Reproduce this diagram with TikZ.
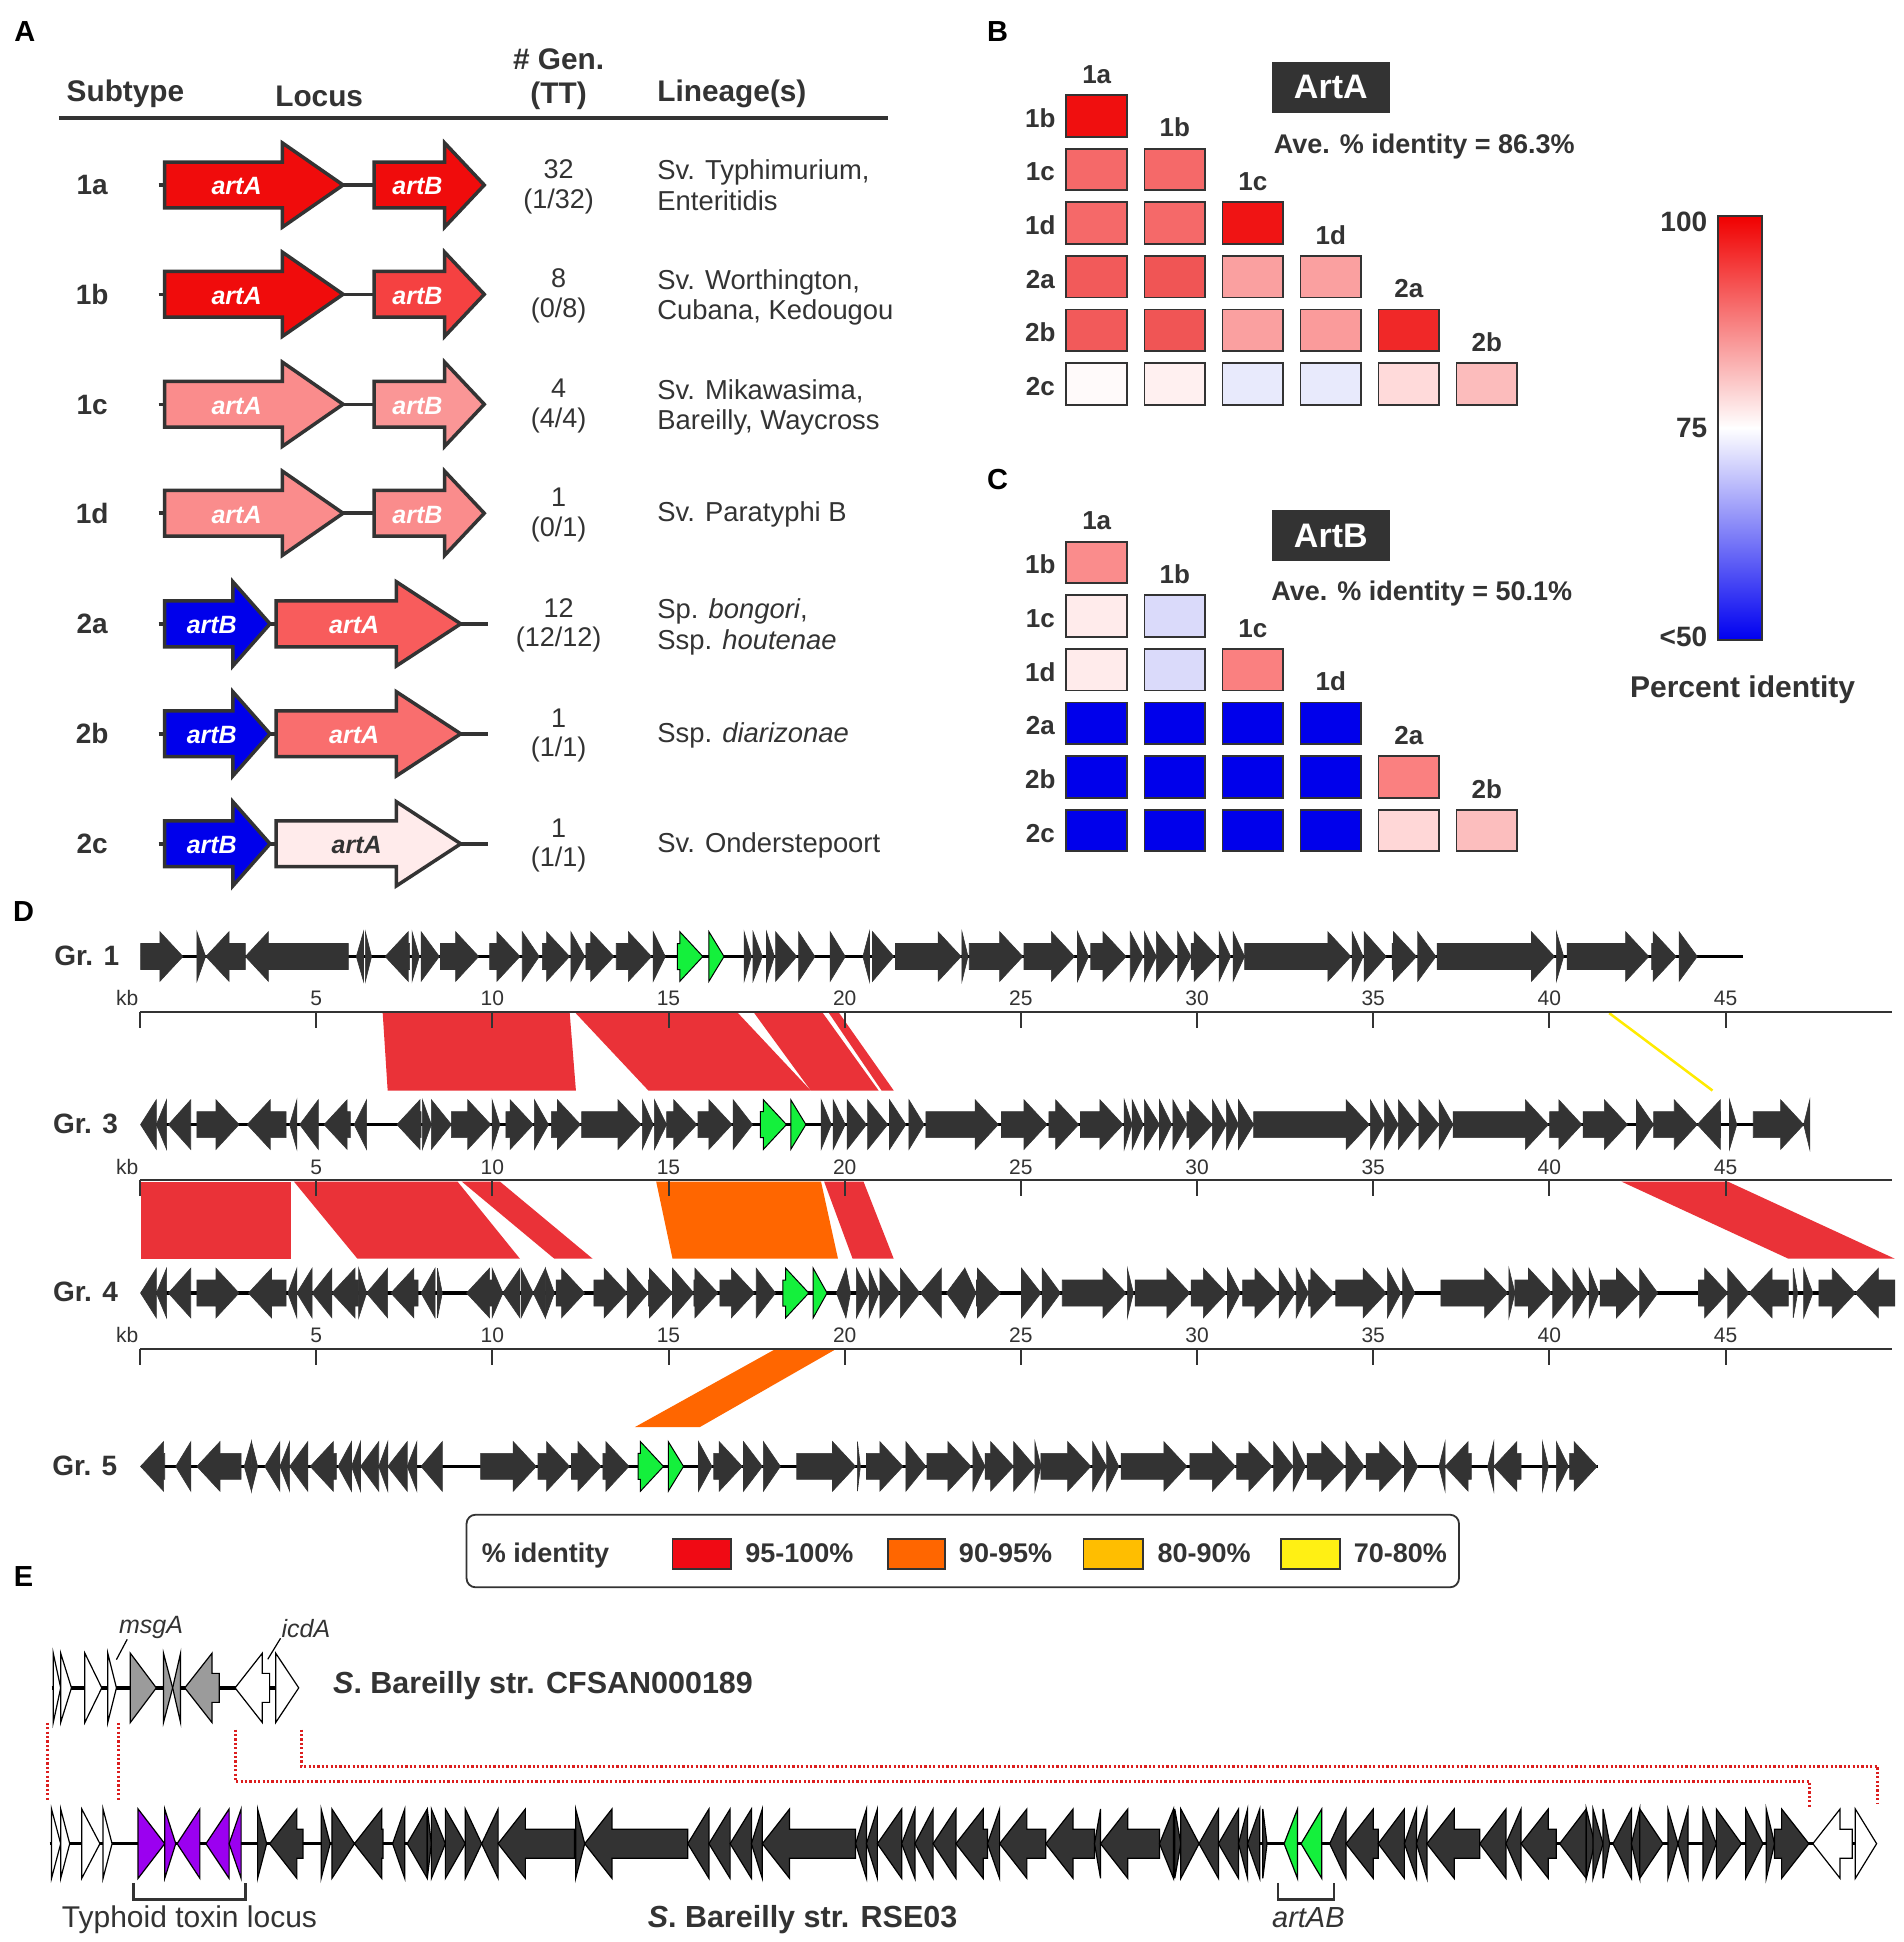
\documentclass[tikz,border=0pt]{standalone}
\usepackage{fontspec}
\setmainfont{Liberation Sans}
\definecolor{tdark}{RGB}{51,51,51}
\definecolor{gdark}{RGB}{51,51,51}
\definecolor{ggreen}{RGB}{20,240,60}
\definecolor{gpurple}{RGB}{155,0,240}
\definecolor{ggray}{RGB}{155,155,155}
\definecolor{alred}{RGB}{234,50,56}
\definecolor{alorange}{RGB}{255,102,0}
\definecolor{alyellow}{RGB}{255,235,0}
\definecolor{lgred}{RGB}{240,10,20}
\definecolor{lgamber}{RGB}{255,190,0}
\definecolor{lgyellow}{RGB}{255,240,20}
\definecolor{dotred}{RGB}{220,30,30}
\definecolor{cbred}{RGB}{240,0,0}
\definecolor{cbblue}{RGB}{0,0,240}
\definecolor{aR1}{RGB}{240,12,12}
\definecolor{aR2}{RGB}{245,65,65}
\definecolor{aP1}{RGB}{250,140,140}
\definecolor{aP2}{RGB}{250,150,150}
\definecolor{aR3}{RGB}{248,92,92}
\definecolor{aR4}{RGB}{249,110,110}
\definecolor{aW}{RGB}{255,235,235}
\definecolor{aB}{RGB}{0,0,235}

\tikzset{
  tnode/.style={inner sep=0pt, outer sep=0pt, text=tdark, anchor=base},
  hdr/.style={tnode, font=\fontsize{29.8}{33}\selectfont\bfseries},
  plet/.style={inner sep=0pt, outer sep=0pt, anchor=base, text=black, font=\fontsize{29}{33}\selectfont\bfseries},
  rlab/.style={tnode, font=\fontsize{28}{32}\selectfont\bfseries},
  cnt/.style={tnode, font=\fontsize{27}{31}\selectfont},
  lin/.style={tnode, anchor=base west, font=\fontsize{27.4}{31}\selectfont},
  alab/.style={inner sep=0pt, anchor=base, text=white, font=\fontsize{25}{29}\selectfont\bfseries\itshape},
  abone/.style={draw=tdark, line width=3.5pt},
  aarrow/.style={draw=tdark, line width=3.5pt, line join=miter, miter limit=10},
  cell/.style={draw=tdark, line width=1.8pt},
  blab/.style={tnode, font=\fontsize{26}{30}\selectfont\bfseries},
  boxlab/.style={inner sep=0pt, anchor=base, text=white, font=\fontsize{34}{38}\selectfont\bfseries},
  ave/.style={tnode, anchor=base west, font=\fontsize{27}{31}\selectfont\bfseries},
  cblab/.style={tnode, anchor=base east, font=\fontsize{28}{32}\selectfont\bfseries},
  grl/.style={tnode, font=\fontsize{28}{32}\selectfont\bfseries},
  sclab/.style={tnode, font=\fontsize{21}{24}\selectfont},
  scl/.style={draw=tdark, line width=2pt},
  bbone/.style={draw=black, line width=3.5pt},
  gbase/.style={fill=gdark, draw=gdark, line width=0.6pt, line join=miter},
  grn/.style={fill=ggreen, draw=black, line width=1pt},
  ewhite/.style={fill=white, draw=black, line width=1.2pt},
  egray/.style={fill=ggray, draw=black, line width=1.2pt},
  epurp/.style={fill=gpurple, draw=black, line width=1.2pt},
  edark/.style={fill=gdark, draw=black, line width=1.2pt},
  egreen/.style={fill=ggreen, draw=black, line width=1.2pt},
  legt/.style={tnode, anchor=base west, font=\fontsize{27}{31}\selectfont\bfseries},
  sw/.style={draw=tdark, line width=1.8pt},
  dotl/.style={draw=dotred, line width=3pt, dash pattern=on 2.2pt off 2.2pt},
  brk/.style={draw=tdark, line width=2.8pt},
  etx/.style={tnode, font=\fontsize{30.5}{34}\selectfont\bfseries},
  eit/.style={tnode, font=\fontsize{25}{29}\selectfont\itshape},
}

% gene arrow: [style]{start}{end}{dir}
\newcommand{\gene}[4][]{%
  \pgfmathsetmacro\hd{min((#3)-(#2),\HL)}%
  \ifnum#4>0\relax
    \path[gbase,#1] (#2,\TY-\BH) -- ({#3-\hd},\TY-\BH) -- ({#3-\hd},\TY-\HH) -- (#3,\TY) -- ({#3-\hd},\TY+\HH) -- ({#3-\hd},\TY+\BH) -- (#2,\TY+\BH) -- cycle;
  \else
    \path[gbase,#1] (#3,\TY-\BH) -- ({#2+\hd},\TY-\BH) -- ({#2+\hd},\TY-\HH) -- (#2,\TY) -- ({#2+\hd},\TY+\HH) -- ({#2+\hd},\TY+\BH) -- (#3,\TY+\BH) -- cycle;
  \fi}

% panel A arrow
\newcommand{\aarr}[5]{\path[aarrow,fill=#5] (#1,#4-18.5) -- (#2,#4-18.5) -- (#2,#4-34) -- (#3,#4) -- (#2,#4+34) -- (#2,#4+18.5) -- (#1,#4+18.5) -- cycle;}
\newcommand{\typeone}[4]{%
  \draw[abone] (128,#1) -- (391,#1);
  \aarr{133}{228}{277}{#1}{#2}
  \aarr{302}{359}{391}{#1}{#3}
  \node[alab] (A#4) at (191,#1+8) {artA};
  \node[alab] (B#4) at (337,#1+8) {artB};}
\newcommand{\typetwo}[5]{%
  \draw[abone] (128,#1) -- (394,#1);
  \aarr{133}{188}{218}{#1}{aB}
  \aarr{223}{320}{372}{#1}{#2}
  \node[alab] (B#3) at (171,#1+8) {artB};
  \node[alab,text=#4] (A#3) at (#5,#1+8) {artA};}
\newcommand{\rowtxt}[6]{%
  \node[rlab] (lab#2) at (74.4,#1+8) {#2};
  \node[cnt] (n#2) at (451,#1-5.4) {#3};
  \node[cnt] (tt#2) at (451,#1+18.6) {#4};
  \node[lin] (lin#2) at (530.8,#1-4.1) {#5};
  \node[lin] (linb#2) at (530.8,#1+20.6) {#6};}
\newcommand{\rowtxtone}[5]{%
  \node[rlab] (lab#2) at (74.4,#1+8) {#2};
  \node[cnt] (n#2) at (451,#1-5.4) {#3};
  \node[cnt] (tt#2) at (451,#1+18.6) {#4};
  \node[lin] (lin#2) at (530.8,#1+6.7) {#5};}

\newcommand{\heatmap}[3]{%
  \foreach \ci/\cj/\cr/\cg/\cb in {#3} {%
    \edef\tmpdef{\noexpand\definecolor{cc}{RGB}{\cr,\cg,\cb}}\tmpdef
    \path[cell,fill=cc] ({861+63*\cj},{#1+43.3*\ci}) rectangle ++(49,33.6);
  }
  \foreach \cj/\ct in {0/1a,1/1b,2/1c,3/1d,4/2a,5/2b}
    \node[blab] (#2c\cj) at ({885.5+63*\cj},{#1+43.3*\cj-9.4}) {\ct};
  \foreach \ci/\ct in {0/1b,1/1c,2/1d,3/2a,4/2b,5/2c}
    \node[blab] (#2r\ci) at (840,{#1+43.3*\ci+26.1}) {\ct};
}

\newcommand{\kbscale}[2]{%
  \draw[scl] (113,#1) -- (1528,#1);
  \foreach \k in {0,...,9} {\draw[scl] ({113+142.25*\k},#1) -- ++(0,13);}
  \node[sclab] (#2kb) at (102.7,#1-5) {kb};
  \foreach \k in {1,...,9} {\pgfmathtruncatemacro\kl{5*\k}\node[sclab] (#2t\k) at ({113+142.25*\k},#1-5) {\kl};}
}

\begin{document}
\begin{tikzpicture}[x=1.2388pt, y=-1.2388pt]
\useasboundingbox (0,0) rectangle (1537,1568);
\fill[white] (0,0) rectangle (1537,1568);

% ---------------- panel letters
\node[plet] (lA) at (20,33.6) {A};
\node[plet] (lB) at (805.5,33.6) {B};
\node[plet] (lC) at (805.5,395.5) {C};
\node[plet] (lD) at (19,744) {D};
\node[plet] (lE) at (19,1280.8) {E};

% ---------------- panel A
\node[hdr] (hSub) at (101.3,82) {Subtype};
\node[hdr] (hLoc) at (257.7,85.6) {Locus};
\node[hdr] (hGen) at (451,56) {\# Gen.};
\node[hdr] (hTT) at (451,83.4) {(TT)};
\node[hdr, anchor=base west] (hLin) at (530.8,82) {Lineage(s)};
\draw[draw=tdark, line width=4pt] (47.5,95.5) -- (717,95.5);

\typeone{149.4}{aR1}{aR1}{r1a}
\typeone{237.6}{aR1}{aR2}{r1b}
\typeone{326.4}{aP1}{aP2}{r1c}
\typeone{414.4}{aP1}{aP1}{r1d}
\typetwo{503.7}{aR3}{r2a}{white}{286}
\typetwo{592.5}{aR4}{r2b}{white}{286}
\typetwo{681.3}{aW}{r2c}{tdark}{288}

\rowtxt{149.4}{1a}{32}{(1/32)}{Sv. Typhimurium,}{Enteritidis}
\rowtxt{237.6}{1b}{8}{(0/8)}{Sv. Worthington,}{Cubana, Kedougou}
\rowtxt{326.4}{1c}{4}{(4/4)}{Sv. Mikawasima,}{Bareilly, Waycross}
\rowtxtone{414.4}{1d}{1}{(0/1)}{Sv. Paratyphi B}
\rowtxt{503.7}{2a}{12}{(12/12)}{Sp. \textit{bongori},}{Ssp. \textit{houtenae}}
\rowtxtone{592.5}{2b}{1}{(1/1)}{Ssp. \textit{diarizonae}}
\rowtxtone{681.3}{2c}{1}{(1/1)}{Sv. Onderstepoort}

% ---------------- panel B
\heatmap{76.7}{hb}{0/0/240/15/15,
 1/0/245/105/105, 1/1/245/105/105,
 2/0/245/105/105, 2/1/245/105/105, 2/2/240/20/20,
 3/0/242/90/90, 3/1/240/85/85, 3/2/250/160/160, 3/3/250/160/160,
 4/0/242/90/90, 4/1/240/85/85, 4/2/250/160/160, 4/3/250/155/155, 4/4/240/40/40,
 5/0/255/250/250, 5/1/255/240/240, 5/2/232/234/252, 5/3/232/234/252, 5/4/255/218/218, 5/5/252/188/188}
\fill[tdark] (1027,50) rectangle (1122,91);
\node[boxlab] (artAbox) at (1074.5,79.9) {ArtA};
\node[ave] (aveA) at (1028.5,124.3) {Ave. \% identity = 86.3\%};

% ---------------- panel C
\heatmap{437.3}{hc}{0/0/250/140/140,
 1/0/255/235/235, 1/1/218/218/250,
 2/0/255/235/235, 2/1/218/218/250, 2/2/250/128/128,
 3/0/0/0/235, 3/1/0/0/235, 3/2/0/0/235, 3/3/0/0/235,
 4/0/0/0/235, 4/1/0/0/235, 4/2/0/0/235, 4/3/0/0/235, 4/4/250/128/128,
 5/0/0/0/235, 5/1/0/0/235, 5/2/0/0/235, 5/3/0/0/235, 5/4/255/215/215, 5/5/252/190/190}
\fill[tdark] (1027,412) rectangle (1122,453);
\node[boxlab] (artBbox) at (1074.5,441.8) {ArtB};
\node[ave] (aveB) at (1026.5,484.9) {Ave. \% identity = 50.1\%};

% ---------------- colour bar
\shade[top color=cbred, bottom color=white] (1387,174.4) rectangle (1423,345.5);
\shade[top color=white, bottom color=cbblue] (1387,345.5) rectangle (1423,516.6);
\draw[draw=tdark, line width=2pt] (1387,174.4) rectangle (1423,516.6);
\node[cblab] (cb100) at (1378.4,187) {100};
\node[cblab] (cb75) at (1378.4,353) {75};
\node[cblab] (cb50) at (1378.4,522) {<50};
\node[tnode, font=\fontsize{30}{34}\selectfont\bfseries] (cbt) at (1407,563) {Percent identity};

% ---------------- panel D alignments
\fill[alred] (309,818) -- (460,818) -- (465,880.5) -- (313,880.5) -- cycle;
\fill[alred] (464.8,818) -- (595.9,818) -- (654.6,880.5) -- (523.5,880.5) -- cycle;
\fill[alred] (609,818) -- (664.4,818) -- (709.4,880.5) -- (654.6,880.5) -- cycle;
\fill[alred] (669.3,818) -- (677.6,818) -- (721.6,880.5) -- (711.8,880.5) -- cycle;
\coordinate (y1a) at (1299.3,818); \coordinate (y1b) at (1382.7,880.5);
\draw[alyellow, line width=2.5pt] (y1a) -- (y1b);

\fill[alred] (113.5,954) -- (234.8,954) -- (234.8,1016.3) -- (113.5,1016.3) -- cycle;
\fill[alred] (237.3,954) -- (369.4,954) -- (419.8,1016.3) -- (288.6,1016.3) -- cycle;
\fill[alred] (372.8,954) -- (403.6,954) -- (478.5,1016.3) -- (447.6,1016.3) -- cycle;
\fill[alorange] (529.8,954) -- (662.9,954) -- (676.6,1016.3) -- (543,1016.3) -- cycle;
\fill[alred] (665.4,954) -- (697.2,954) -- (721.6,1016.3) -- (688.4,1016.3) -- cycle;
\fill[alred] (1309.1,954) -- (1395,954) -- (1529.9,1016.3) -- (1444,1016.3) -- cycle;

\fill[alorange] (626.2,1089.2) -- (675.1,1089.2) -- (565.1,1152.2) -- (512.7,1152.2) -- cycle;

\kbscale{817}{s1}
\kbscale{953}{s2}
\kbscale{1089}{s3}

% ---------------- panel D tracks
\def\HH{20}\def\BH{10.5}\def\HL{18.6}
% Gr.1
\def\TY{772.3}
\draw[bbone] (113.5,\TY) -- (1407,\TY);
\foreach \ga/\gb/\gd in {113.5/147.7/1, 159/166/1, 166.3/198.1/-1, 198.1/281.3/-1, 287.7/293.5/-1, 295/300/1, 311/330.7/-1, 332.7/338.6/1, 340/354.7/1, 355.7/386.5/1, 395.3/419.8/1, 421.7/435.4/1, 437.9/459.9/1, 460.9/472.1/1, 473.1/495.6/1, 497.6/526/1, 527.4/537.2/1, 600.8/606.7/1, 608/615.5/1, 618.9/625.2/1, 626.2/643.3/1, 644.8/658/1, 670.3/682.5/1, 696.7/702/-1, 704.5/721.6/1, 723/776/1, 776.7/781.6/1, 782.6/825.8/1, 826.8/867.5/1, 870/878.8/1, 880.7/909.2/1, 912.6/923/1, 924/933.7/1, 933.7/949.4/1, 950.9/961.7/1, 961.7/982.8/1, 984.3/993.6/1, 995.6/1004.9/1, 1004.9/1090.7/1, 1091.7/1100.6/1, 1101.5/1119.2/1, 1124.1/1143.7/1, 1144.7/1159.4/1, 1160.4/1255.1/1, 1256.6/1262.5/1, 1265.4/1331.2/1, 1333.6/1353.3/1, 1355.7/1370.4/1}{\gene{\ga}{\gb}{\gd}}
\gene[grn]{547}{567.5}{1}
\gene[grn]{572.4}{584.6}{1}
\node[grl] (gr1) at (70,\TY+7) {Gr. 1};

% Gr.3
\def\TY{908}
\draw[bbone] (113.5,\TY) -- (1461,\TY);
\foreach \ga/\gb/\gd in {113.5/126.2/-1, 126.2/134.5/-1, 136/154/-1, 159/193/1, 199.6/231/-1, 233.9/239.7/-1, 242/257/-1, 261.7/282.8/-1, 286/296/-1, 320.5/340/-1, 341/348.3/1, 348.3/364.5/1, 364.5/396.3/1, 397.3/403.6/1, 408.5/430.5/1, 431.5/442.8/1, 445.2/468.7/1, 469.7/517.6/1, 518.6/527.4/1, 528.4/538.2/1, 538.2/562.6/1, 563.6/591/1, 592/607.6/1, 663/671.2/1, 672.7/682.5/1, 684/699.6/1, 700.6/716.7/1, 718.2/731.4/1, 733.9/746.1/1, 747.6/806/1, 808.6/845.4/1, 846.9/870.9/1, 872.4/906.7/1, 907.7/914.1/1, 914.1/923/1, 924/936.2/1, 936.2/946/1, 947/958.3/1, 958.3/978.9/1, 978.9/990.2/1, 990.2/1000/1, 1000/1012.2/1, 1012.2/1105.5/1, 1106.4/1117.7/1, 1117.7/1129/1, 1129/1144.7/1, 1145.7/1161.9/1, 1161.9/1173.2/1, 1173.2/1250.2/1, 1251.2/1277.2/1, 1278.2/1314/1, 1321.3/1335.1/1, 1335.1/1370.4/1, 1370.4/1389.1/-1, 1396.4/1402.3/1, 1415.6/1456.3/1, 1456.3/1461.2/-1}{\gene{\ga}{\gb}{\gd}}
\gene[grn]{614}{635}{1}
\gene[grn]{638.5}{650.7}{1}
\node[grl] (gr3) at (69,\TY+7) {Gr. 3};

% Gr.4
\def\TY{1044}
\draw[bbone] (113.5,\TY) -- (1528,\TY);
\foreach \ga/\gb/\gd in {113.5/126.2/-1, 126.2/134.5/-1, 136/154/-1, 159/193/1, 200.6/231/-1, 232.4/239.7/-1, 239.7/252/-1, 252/268/-1, 268/289.6/-1, 289.6/296/1, 296/313/-1, 315.6/337.6/-1, 340/351.3/-1, 353.2/357.1/1, 376.7/397.3/-1, 397.3/406/1, 406/419.8/-1, 420.7/430.5/1, 430.5/440.3/-1, 440.3/447.6/1, 449/472/1, 479.5/506.4/1, 506.4/523.5/1, 523.5/543/1, 543/560.2/1, 560.2/579.7/1, 581.2/609.1/1, 610.6/626.2/1, 675.4/683/-1, 683/686.7/1, 691.5/701.7/1, 701.7/709.8/1, 710.4/726.5/1, 727/742.7/1, 743.2/760.1/-1, 764.2/779/-1, 779/788/1, 788.4/807.8/1, 824.8/840.5/1, 841.5/856.2/1, 857.7/909.2/1, 910.2/915.1/1, 916.6/960.7/1, 961.7/990.2/1, 991.1/1001.4/1, 1003.4/1031.9/1, 1032.8/1045.6/1, 1046.6/1056.4/1, 1056.4/1077/1, 1078.5/1119.2/1, 1120.2/1131/1, 1132.5/1142.3/1, 1163.4/1217.3/1, 1218.3/1223.2/1, 1223.2/1252.7/1, 1253.7/1269.9/1, 1269.9/1282.1/1, 1283.1/1290.9/1, 1291.9/1323.8/1, 1323.8/1338.5/1, 1371.4/1395/1, 1395/1412.2/1, 1412.2/1444/-1, 1447.9/1451.4/1, 1456.3/1463.7/1, 1468.6/1498/1, 1498/1529.9/-1}{\gene{\ga}{\gb}{\gd}}
\gene[grn]{632}{653}{1}
\gene[grn]{656.6}{667.8}{1}
\node[grl] (gr4) at (69,\TY+7) {Gr. 4};

% Gr.5
\def\TY{1184}
\draw[bbone] (113.5,\TY) -- (1290,\TY);
\foreach \ga/\gb/\gd in {113.5/133/-1, 141.9/154.1/-1, 159/194.7/-1, 197.2/203/-1, 203/208/1, 213.8/226/-1, 226/233.9/-1, 233.9/248.5/-1, 250.5/271.5/-1, 273/283.8/-1, 283.8/291.1/-1, 291.1/305.8/-1, 305.8/313.1/-1, 313.1/328.8/-1, 328.8/336.6/-1, 340/357.1/-1, 388/433/1, 434.4/459.9/1, 461.4/485.3/1, 486.8/507.8/1, 564/574.9/1, 576.3/599.3/1, 600.3/615.5/1, 616.4/630.1/1, 643.3/690.8/1, 692.3/694.7/1, 699.6/729/1, 731.4/747.6/1, 748.5/784/1, 785.5/795.4/1, 795.4/818.4/1, 818.4/835.6/1, 835.6/840.5/1, 840.5/880.7/1, 882.2/893.5/1, 893.5/903.3/1, 905.3/958.3/1, 960.7/997.5/1, 998.5/1027/1, 1028.4/1044.1/1, 1044.1/1054/1, 1055.4/1085.8/1, 1086.8/1101.5/1, 1103/1132.5/1, 1134/1144.7/1, 1161.9/1166.8/-1, 1166.8/1187.9/-1, 1201.2/1206.1/-1, 1206.1/1228.1/-1, 1245.3/1250.2/1, 1256.6/1266.4/1, 1267.4/1289.5/1}{\gene{\ga}{\gb}{\gd}}
\gene[grn]{515.2}{535.7}{1}
\gene[grn]{539.6}{551.9}{1}
\node[grl] (gr5) at (68.5,\TY+7) {Gr. 5};

% ---------------- legend
\draw[draw=tdark, line width=1.8pt, fill=white, rounded corners=9pt] (376.7,1223) rectangle (1178,1281.6);
\node[legt] (lgt) at (389,1261.2) {\% identity};
\path[sw, fill=lgred] (543,1242.6) rectangle (590.5,1266.8);
\node[legt] (lg1) at (601.8,1261.2) {95-100\%};
\path[sw, fill=alorange] (716.7,1242.6) rectangle (763.2,1266.8);
\node[legt] (lg2) at (774.3,1261.2) {90-95\%};
\path[sw, fill=lgamber] (874.8,1242.6) rectangle (922.9,1266.8);
\node[legt] (lg3) at (934.7,1261.2) {80-90\%};
\path[sw, fill=lgyellow] (1034.3,1242.6) rectangle (1081.9,1266.8);
\node[legt] (lg4) at (1093.2,1261.2) {70-80\%};

% ---------------- panel E
\def\HH{28}\def\BH{11.7}\def\HL{22}
% dotted connections
\draw[dotl] (38.2,1391) -- (38.2,1454.4);
\draw[dotl] (95.4,1391) -- (95.4,1454.4);
\draw[dotl] (189.8,1396.5) -- (189.8,1438.2) -- (1461.2,1438.2) -- (1461.2,1459.7);
\draw[dotl] (243.2,1396.5) -- (243.2,1426.1) -- (1516.2,1426.1) -- (1516.2,1455.6);

% top track
\def\TY{1362.8}
\draw[bbone] (41.6,\TY) -- (241,\TY);
\foreach \ga/\gb/\gd in {43/49/1, 49/57.7/1, 68.5/82.2/1, 87/94/1, 189.8/217.7/-1, 222.6/241.2/1}{\gene[ewhite]{\ga}{\gb}{\gd}}
\foreach \ga/\gb/\gd in {105.2/126.2/1, 132/139.4/1, 139.4/145.8/-1, 149.2/177.1/-1}{\gene[egray]{\ga}{\gb}{\gd}}
\node[etx, anchor=base west] (sp1) at (269,1367.5) {\textit{S}. Bareilly str. CFSAN000189};
\node[eit] (msgA) at (122,1318.5) {msgA};
\node[eit] (icdA) at (247,1322.5) {icdA};
\coordinate (m1) at (102.7,1323.6); \coordinate (m2) at (94,1340);
\coordinate (i1) at (226.5,1322.8); \coordinate (i2) at (216.2,1339.7);
\draw[black, line width=1.2pt] (m1) -- (m2);
\draw[black, line width=1.2pt] (i1) -- (i2);

% bottom track
\def\TY{1488.6}
\draw[bbone] (40,\TY) -- (1515,\TY);
\foreach \ga/\gb/\gd in {41.6/49/1, 49/56.3/1, 66/80.7/1, 83.2/90.5/1, 1463.7/1495.5/-1, 1498/1515.2/1}{\gene[ewhite]{\ga}{\gb}{\gd}}
\foreach \ga/\gb/\gd in {111.5/133/1, 133/141.9/1, 143/161.4/-1, 166.3/185/-1, 185/194.7/-1}{\gene[epurp]{\ga}{\gb}{\gd}}
\foreach \ga/\gb/\gd in {208/215.3/1, 217.7/244.6/-1, 259.3/266.6/1, 268/286.2/1, 286.2/309.2/-1, 317/326.8/-1, 328.8/345/-1, 345/348.3/1, 348.3/359.6/1, 359.6/375.7/1, 375.7/388.9/1, 388.9/402.2/-1, 402.2/463.8/-1, 464.8/472.1/1, 472.1/555.3/-1, 555.3/572.4/-1, 572.4/589.5/-1, 589.5/606.7/-1, 606.7/615.5/-1, 615.5/690.8/-1, 690.8/699.6/-1, 699.6/708.4/-1, 708.4/728/-1, 728/738.7/-1, 738.7/753.4/-1, 753.4/771.8/-1, 771.8/797.3/-1, 797.3/807.1/-1, 807.1/844.4/-1, 844.4/883.7/-1, 883.7/888.6/-1, 888.6/936.2/-1, 936.2/947.5/-1, 948.5/953.4/1, 953.4/968.1/1, 968.1/983.8/-1, 983.8/1000/-1, 1000/1007.3/-1, 1007.3/1017.1/-1, 1019.6/1023/1, 1073.6/1086.8/-1, 1086.8/1112.8/-1, 1112.8/1133.9/-1, 1133.9/1143.7/-1, 1143.7/1152.1/-1, 1152.1/1194.8/-1, 1194.8/1215.9/-1, 1215.9/1228.1/-1, 1228.1/1256.6/-1, 1259.3/1280.8/-1, 1280.8/1287.6/1, 1286.2/1294.3/1, 1294.3/1299.7/1, 1302.3/1317.2/-1, 1317.2/1323.9/-1, 1323.9/1342.7/1, 1346.7/1354.8/1, 1354.8/1362.9/-1, 1375/1385.8/1, 1385.8/1406/1, 1409.5/1423.4/1, 1426.1/1432.8/1, 1432.8/1460.5/1}{\gene[edark]{\ga}{\gb}{\gd}}
\gene[egreen]{1036.8}{1047.6}{-1}
\gene[egreen]{1050.5}{1067.2}{-1}

% brackets and labels
\draw[brk] (107.6,1520.3) -- (107.6,1533.7) -- (198.1,1533.7) -- (198.1,1520.3);
\draw[brk] (1031.9,1520.3) -- (1031.9,1533.7) -- (1077,1533.7) -- (1077,1520.3);
\node[tnode, font=\fontsize{30}{34}\selectfont] (ttl) at (153,1556.6) {Typhoid toxin locus};
\node[etx] (sp2) at (648,1556.6) {\textit{S}. Bareilly str. RSE03};
\node[tnode, font=\fontsize{29}{33}\selectfont\itshape] (artAB) at (1056.4,1556.6) {artAB};

\end{tikzpicture}
\end{document}
